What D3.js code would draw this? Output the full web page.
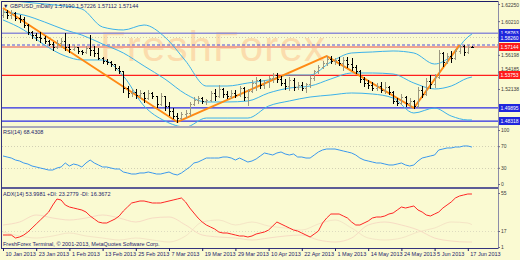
<!DOCTYPE html>
<html>
<head>
<meta charset="utf-8">
<script src="https://cdnjs.cloudflare.com/ajax/libs/d3/7.8.5/d3.min.js"></script>
<style>
body { margin: 0; background: #fafad2; }
svg { display: block; }
</style>
</head>
<body>
<script>
//DATA (GBPUSD daily, 10 Jan - 18 Jun 2013, bar index 0..113)
var dateLabels = ["10 Jan 2013", "23 Jan 2013", "1 Feb 2013", "13 Feb 2013", "25 Feb 2013", "7 Mar 2013", "19 Mar 2013",
                  "29 Mar 2013", "10 Apr 2013", "22 Apr 2013", "1 May 2013", "14 May 2013", "24 May 2013", "5 Jun 2013", "17 Jun 2013"];
var dateIdx = [0, 8, 16, 24, 32, 40, 48, 56, 64, 72, 80, 88, 96, 104, 112];

var open = [1.6094,1.6130,1.6094,1.6118,1.6058,1.6047,1.5975,1.5892,1.5856,1.5832,
            1.5820,1.5785,1.5749,1.5713,1.5761,1.5785,1.5713,1.5690,1.5713,1.5666,
            1.5654,1.5701,1.5678,1.5642,1.5582,1.5547,1.5535,1.5511,1.5463,1.5428,
            1.5225,1.5166,1.5178,1.5142,1.5166,1.5106,1.5166,1.5130,1.5035,1.5130,
            1.5011,1.4952,1.4892,1.4868,1.4916,1.4928,1.5035,1.5083,1.5106,1.5071,
            1.5083,1.5166,1.5130,1.5214,1.5154,1.5130,1.5166,1.5142,1.5225,1.5118,
            1.5190,1.5285,1.5321,1.5261,1.5297,1.5344,1.5380,1.5333,1.5285,1.5249,
            1.5321,1.5237,1.5261,1.5225,1.5273,1.5344,1.5428,1.5475,1.5523,1.5571,
            1.5547,1.5559,1.5523,1.5559,1.5511,1.5475,1.5428,1.5333,1.5285,1.5261,
            1.5225,1.5249,1.5202,1.5237,1.5178,1.5071,1.5047,1.5118,1.5047,1.5071,
            1.5011,1.5202,1.5154,1.5309,1.5273,1.5356,1.5642,1.5535,1.5606,1.5582,
            1.5666,1.5725,1.5654,1.5719];
var high = [1.6166,1.6154,1.6154,1.6130,1.6094,1.6070,1.5987,1.5904,1.5880,1.5892,
            1.5844,1.5797,1.5773,1.5797,1.5820,1.5880,1.5749,1.5737,1.5713,1.5678,
            1.5725,1.5856,1.5725,1.5701,1.5594,1.5571,1.5547,1.5511,1.5487,1.5428,
            1.5249,1.5214,1.5214,1.5202,1.5178,1.5202,1.5178,1.5130,1.5166,1.5130,
            1.5059,1.4987,1.4928,1.4940,1.4964,1.5059,1.5118,1.5130,1.5118,1.5095,
            1.5190,1.5214,1.5261,1.5225,1.5190,1.5202,1.5202,1.5249,1.5237,1.5214,
            1.5321,1.5356,1.5333,1.5321,1.5368,1.5404,1.5404,1.5368,1.5333,1.5356,
            1.5344,1.5297,1.5297,1.5285,1.5368,1.5440,1.5499,1.5547,1.5606,1.5606,
            1.5582,1.5594,1.5594,1.5594,1.5582,1.5499,1.5440,1.5356,1.5321,1.5297,
            1.5285,1.5297,1.5297,1.5249,1.5190,1.5106,1.5154,1.5130,1.5106,1.5083,
            1.5237,1.5249,1.5344,1.5380,1.5392,1.5678,1.5654,1.5642,1.5666,1.5690,
            1.5737,1.5737,1.5737,1.5723];
var low = [1.6070,1.6058,1.6058,1.6035,1.6011,1.5951,1.5868,1.5820,1.5797,1.5773,
           1.5761,1.5737,1.5678,1.5701,1.5713,1.5678,1.5654,1.5678,1.5642,1.5630,
           1.5642,1.5618,1.5606,1.5571,1.5523,1.5511,1.5487,1.5440,1.5404,1.5178,
           1.5118,1.5130,1.5106,1.5106,1.5059,1.5095,1.5106,1.4999,1.5023,1.4964,
           1.4904,1.4868,1.4821,1.4857,1.4880,1.4904,1.5023,1.5047,1.5047,1.5035,
           1.5071,1.5083,1.5118,1.5118,1.5106,1.5106,1.5118,1.5130,1.5083,1.5023,
           1.5178,1.5202,1.5225,1.5225,1.5237,1.5297,1.5297,1.5261,1.5214,1.5202,
           1.5202,1.5214,1.5202,1.5178,1.5237,1.5321,1.5404,1.5463,1.5499,1.5523,
           1.5511,1.5499,1.5440,1.5475,1.5440,1.5404,1.5297,1.5249,1.5225,1.5202,
           1.5202,1.5178,1.5166,1.5154,1.5047,1.5023,1.5035,1.5011,1.4999,1.4987,
           1.4999,1.5118,1.5142,1.5225,1.5237,1.5344,1.5487,1.5523,1.5535,1.5571,
           1.5642,1.5618,1.5642,1.5711];
var close = [1.6130,1.6094,1.6118,1.6058,1.6047,1.5975,1.5892,1.5856,1.5832,1.5820,
             1.5785,1.5749,1.5713,1.5761,1.5785,1.5713,1.5690,1.5713,1.5666,1.5654,
             1.5701,1.5678,1.5642,1.5582,1.5547,1.5535,1.5511,1.5463,1.5428,1.5225,
             1.5166,1.5178,1.5142,1.5166,1.5106,1.5166,1.5130,1.5035,1.5130,1.5011,
             1.4952,1.4892,1.4868,1.4916,1.4928,1.5035,1.5083,1.5106,1.5071,1.5083,
             1.5166,1.5130,1.5214,1.5154,1.5130,1.5166,1.5142,1.5225,1.5118,1.5190,
             1.5285,1.5321,1.5261,1.5297,1.5344,1.5380,1.5333,1.5285,1.5249,1.5321,
             1.5237,1.5261,1.5225,1.5273,1.5344,1.5428,1.5475,1.5523,1.5571,1.5547,
             1.5559,1.5523,1.5559,1.5511,1.5475,1.5428,1.5333,1.5285,1.5261,1.5225,
             1.5249,1.5202,1.5237,1.5178,1.5071,1.5047,1.5118,1.5047,1.5071,1.5011,
             1.5202,1.5154,1.5309,1.5273,1.5356,1.5642,1.5535,1.5606,1.5582,1.5666,
             1.5725,1.5654,1.5713,1.5714];

//bollinger bands, read every few bars
var bandIdx = [0,5,10,15,19,24,29,34,39,44,49,54,59,64,69,74,79,84,89,94,99,104,108,112,113];
var bandUpper = [1.6273,1.6249,1.6225,1.6201,1.6166,1.5951,1.5916,1.5975,1.5832,1.5547,1.5249,1.5249,1.5285,
                 1.5321,1.5380,1.5380,1.5535,1.5642,1.5654,1.5666,1.5642,1.5511,1.5606,1.5832,1.5868];
var bandMiddle = [1.6130,1.6094,1.6011,1.5916,1.5856,1.5749,1.5642,1.5487,1.5333,1.5154,1.5059,1.5059,1.5071,
                  1.5166,1.5225,1.5249,1.5333,1.5404,1.5404,1.5392,1.5285,1.5214,1.5249,1.5344,1.5356];
var bandLower = [1.6035,1.5916,1.5737,1.5606,1.5559,1.5559,1.5368,1.5011,1.4833,1.4761,1.4868,1.4868,1.4868,
                 1.5011,1.5071,1.5118,1.5142,1.5166,1.5154,1.5106,1.4928,1.4987,1.4892,1.4845,1.4845];

//zigzag turning points
var zigIdx = [0, 42, 78, 99, 110];
var zigPrice = [1.6177, 1.4821, 1.5606, 1.4987, 1.5737];

//horizontal levels on the main window
var levelPrice = [1.58763, 1.58260, 1.57370, 1.57144, 1.53753, 1.49895, 1.48318];
var levelLabel = ["1.58763", "1.58260", "", "1.57144", "1.53753", "1.49895", "1.48318"];
var priceTicks = [1.62250, 1.60210, 1.56198, 1.54185, 1.52138];

//RSI(14)
var rsi = [51.9,50.0,48.1,44.4,42.6,38.9,37.0,33.3,31.5,29.6,
           27.8,25.9,25.9,29.6,31.5,38.9,33.3,37.0,35.2,31.5,
           38.9,44.4,38.9,35.2,31.5,31.5,29.6,27.8,27.8,22.2,
           20.4,18.5,18.5,20.4,20.4,22.2,20.4,18.5,18.5,20.4,
           22.2,18.5,16.7,20.4,25.9,31.5,38.9,40.7,44.4,48.1,
           48.1,48.1,48.1,50.0,50.0,48.1,44.4,48.1,44.4,40.7,
           42.6,46.3,51.9,57.4,55.6,53.7,57.4,59.3,55.6,53.7,
           55.6,50.0,50.0,48.1,48.1,53.7,59.3,63.0,64.8,64.8,
           64.8,63.0,61.1,59.3,57.4,53.7,48.1,44.4,42.6,40.7,
           38.9,38.9,37.0,35.2,35.2,37.0,38.9,35.2,33.3,35.2,
           42.6,48.1,50.0,51.9,53.7,63.0,64.8,66.7,66.7,68.5,
           68.5,70.4,70.4,68.4];
var rsiTicks = [100, 70, 30, 0];
var rsiLevels = [70, 30];

//ADX(14) and +DI / -DI
var adx = [13,13,13,10,11,13,16,20,24,28,
           32,36,43,49,48,43,41,40,39,38,
           36,32,29,26,25,25,27,29,32,37,
           41,45,46,47,47,46,45,45,45,46,
           47,48,49,50,46,40,35,30,26,23,
           21,19,16,15,15,14,13,12,12,11,
           12,14,15,16,18,22,26,24,22,20,
           18,17,15,13,11,14,17,25,30,34,
           34,34,32,30,26,23,23,25,27,30,
           31,31,32,34,35,38,41,40,41,42,
           38,36,33,32,34,36,40,43,46,50,
           52,53,54,54];
var diIdx = [0,4,8,12,16,20,24,28,32,36,40,44,48,52,56,60,64,68,72,76,80,84,88,92,96,100,104,108,112,113];
var plusDI = [16,12,10,12,15,12,10,8,10,8,6,12,26,28,23,26,22,20,18,24,28,20,10,8,10,16,20,26,25,23.3];
var minusDI = [23,26,33,30,28,30,33,30,26,30,31,23,13,11,10,8,10,12,13,8,6,10,23,26,23,18,10,7,6,6];
var adxTicks = [55, 17, 1];
var adxLevels = [17];

//1. sizes
var width = 520, height = 260;
var left = 2, right = 498;
var mainTop = 2, mainBottom = 126;
var rsiTop = 128, rsiBottom = 186;
var adxTop = 189, adxBottom = 247;
var font = "'Liberation Sans', Arial, sans-serif";
var navy = "#1c1c6a";

//2. scales
var x = d3.scaleLinear().domain([0, 112]).range([3, 467.8]);
var y = d3.scaleLinear().domain([1.47732, 1.62488]).range([126, 2]);
var yRsi = d3.scaleLinear().domain([0, 100]).range([184, 130]);
var yAdx = d3.scaleLinear().domain([0, 59]).range([248, 189]);

function px(i) { return Math.round(x(i)) + 0.5; }
function py(v) { return Math.round(y(v)) + 0.5; }

var svg = d3.select("body")
            .append("svg")
                .attr("width", width)
                .attr("height", height)
                .style("font-family", font);

svg.append("rect").attr("width", width).attr("height", height).attr("fill", "#fafad2");

//clip paths for the three windows
var defs = svg.append("defs");
[["clipMain", mainTop, mainBottom], ["clipRsi", rsiTop, rsiBottom], ["clipAdx", adxTop, adxBottom]].forEach(function(c) {
    defs.append("clipPath").attr("id", c[0])
        .append("rect").attr("x", left).attr("y", c[1]).attr("width", right - left).attr("height", c[2] - c[1]);
});

//MAIN WINDOW
var gMain = svg.append("g").attr("clip-path", "url(#clipMain)");

//watermark
gMain.append("text")
        .attr("x", 100)
        .attr("y", 61)
        .attr("textLength", 225)
        .attr("font-size", 42)
        .attr("fill", "#fbdcad")
        .text("FreshForex");

//horizontal levels
var levelStyle = [
    {color: "#8e8ed6", w: 1.5, dash: null},
    {color: "#cfcdb2", w: 1, dash: "1,2"},
    {color: "#5050e0", w: 1, dash: "3,2"},
    {color: "#f1a58e", w: 2, dash: null},
    {color: "#ff1e1e", w: 1.3, dash: null},
    {color: "#2a2ae6", w: 1.3, dash: null},
    {color: "#2a2ae6", w: 1.3, dash: null}
];
gMain.selectAll(".level")
        .data(levelPrice)
        .enter().append("line")
            .attr("x1", left).attr("x2", right)
            .attr("y1", function(d) { return y(d); })
            .attr("y2", function(d) { return y(d); })
            .attr("stroke", function(d, i) { return levelStyle[i].color; })
            .attr("stroke-width", function(d, i) { return levelStyle[i].w; })
            .attr("stroke-dasharray", function(d, i) { return levelStyle[i].dash; });

//bollinger bands
var bandLine = function(vals) {
    return d3.line()
        .x(function(d, i) { return x(bandIdx[i]); })
        .y(function(d) { return y(d); })
        .curve(d3.curveMonotoneX)(vals);
};
[bandUpper, bandMiddle, bandLower].forEach(function(b) {
    gMain.append("path")
        .attr("d", bandLine(b))
        .attr("fill", "none")
        .attr("stroke", "#3cb2ea")
        .attr("stroke-width", 1);
});

//zigzag
gMain.append("path")
        .attr("d", d3.line()
            .x(function(d, i) { return x(zigIdx[i]); })
            .y(function(d) { return y(d); })(zigPrice))
        .attr("fill", "none")
        .attr("stroke", "#ff8a14")
        .attr("stroke-width", 2);

//OHLC bars
var bars = gMain.selectAll(".bar")
        .data(close)
        .enter().append("g")
            .attr("stroke", function(d, i) { return d >= open[i] ? "#9c9880" : "#000"; })
            .attr("stroke-width", 1)
            .attr("shape-rendering", "crispEdges");
bars.append("line")
        .attr("x1", function(d, i) { return px(i); })
        .attr("x2", function(d, i) { return px(i); })
        .attr("y1", function(d, i) { return Math.round(y(high[i])); })
        .attr("y2", function(d, i) { return Math.round(y(low[i])) + 1; });
bars.append("line")
        .attr("x1", function(d, i) { return px(i) - 1.5; })
        .attr("x2", function(d, i) { return px(i); })
        .attr("y1", function(d, i) { return py(open[i]); })
        .attr("y2", function(d, i) { return py(open[i]); });
bars.append("line")
        .attr("x1", function(d, i) { return px(i); })
        .attr("x2", function(d, i) { return px(i) + 1.5; })
        .attr("y1", function(d) { return py(d); })
        .attr("y2", function(d) { return py(d); });

//RSI WINDOW
var gRsi = svg.append("g").attr("clip-path", "url(#clipRsi)");
gRsi.selectAll(".rsilev")
        .data(rsiLevels)
        .enter().append("line")
            .attr("x1", left).attr("x2", right)
            .attr("y1", function(d) { return Math.round(yRsi(d)) + 0.5; })
            .attr("y2", function(d) { return Math.round(yRsi(d)) + 0.5; })
            .attr("stroke", "#d2d0b4")
            .attr("stroke-dasharray", "1,2");
gRsi.append("path")
        .attr("d", d3.line()
            .x(function(d, i) { return x(i); })
            .y(function(d) { return yRsi(d); })(rsi))
        .attr("fill", "none")
        .attr("stroke", "#3a98ee")
        .attr("stroke-width", 1);

//ADX WINDOW
var gAdx = svg.append("g").attr("clip-path", "url(#clipAdx)");
gAdx.selectAll(".adxlev")
        .data(adxLevels)
        .enter().append("line")
            .attr("x1", left).attr("x2", right)
            .attr("y1", function(d) { return Math.round(yAdx(d)) + 0.5; })
            .attr("y2", function(d) { return Math.round(yAdx(d)) + 0.5; })
            .attr("stroke", "#dedcc0")
            .attr("stroke-dasharray", "1,2");
var diLine = d3.line()
        .x(function(d, i) { return x(diIdx[i]); })
        .y(function(d) { return yAdx(d); })
        .curve(d3.curveMonotoneX);
gAdx.append("path").attr("d", diLine(plusDI))
        .attr("fill", "none").attr("stroke", "#f5e5c6").attr("stroke-width", 1);
gAdx.append("path").attr("d", diLine(minusDI))
        .attr("fill", "none").attr("stroke", "#f7dcc4").attr("stroke-width", 1);
gAdx.append("path")
        .attr("d", d3.line()
            .x(function(d, i) { return x(i); })
            .y(function(d) { return yAdx(d); })(adx))
        .attr("fill", "none")
        .attr("stroke", "#ff2626")
        .attr("stroke-width", 1);

//FRAME
var frame = svg.append("g").attr("shape-rendering", "crispEdges");
frame.append("line").attr("x1", left).attr("x2", right).attr("y1", 1.5).attr("y2", 1.5).attr("stroke", navy).attr("stroke-width", 1.5);
frame.append("line").attr("x1", left).attr("x2", right).attr("y1", 127).attr("y2", 127).attr("stroke", "#a9a9bb").attr("stroke-width", 2);
frame.append("line").attr("x1", left).attr("x2", right).attr("y1", 187.5).attr("y2", 187.5).attr("stroke", "#5c5c96").attr("stroke-width", 2);
frame.append("line").attr("x1", left).attr("x2", right).attr("y1", 248.5).attr("y2", 248.5).attr("stroke", "#34347c").attr("stroke-width", 1);
frame.append("line").attr("x1", 1.5).attr("x2", 1.5).attr("y1", 1).attr("y2", 249).attr("stroke", "#34347c").attr("stroke-width", 1);
frame.append("line").attr("x1", right + 0.5).attr("x2", right + 0.5).attr("y1", 1).attr("y2", 249).attr("stroke", "#8c8ca8").attr("stroke-width", 1);

//AXES
function styleAxis(g) {
    g.select(".domain").remove();
    g.attr("font-family", font).attr("font-size", 5);
    g.selectAll("line").attr("stroke", "#6a6a8a");
    g.selectAll("text").attr("fill", "#3a3a3a");
}

//labelled levels, used to keep price tick texts clear of the label boxes
var boxPrices = levelPrice.filter(function(d, i) { return levelLabel[i] != ""; });

svg.append("g")
        .attr("transform", "translate(" + right + ",0)")
        .call(d3.axisRight(y).tickValues(priceTicks).tickFormat(d3.format(".5f")).tickSize(2).tickPadding(1))
        .call(styleAxis)
        .selectAll("text")
            .attr("dy", function(d) {
                var near = boxPrices.some(function(b) { return Math.abs(y(b) - y(d)) < 6 && y(b) > y(d); });
                return near ? "-0.25em" : "0.4em";
            });
svg.append("g")
        .attr("transform", "translate(" + right + ",0)")
        .call(d3.axisRight(yRsi).tickValues(rsiTicks).tickSize(2).tickPadding(1))
        .call(styleAxis);
svg.append("g")
        .attr("transform", "translate(" + right + ",0)")
        .call(d3.axisRight(yAdx).tickValues(adxTicks).tickSize(2).tickPadding(1))
        .call(styleAxis);

var xAxis = d3.axisBottom(x)
        .tickValues(dateIdx)
        .tickFormat(function(d, i) { return dateLabels[i]; })
        .tickSize(3)
        .tickPadding(1);
var gx = svg.append("g")
        .attr("transform", "translate(0,248)")
        .call(xAxis)
        .call(styleAxis);
gx.attr("font-size", 5.5);
gx.selectAll("line").attr("stroke", navy);
gx.selectAll("text").attr("text-anchor", "start").attr("x", 2).attr("fill", navy);

//level labels on the price scale
var boxes = svg.selectAll(".lbox")
        .data(boxPrices)
        .enter().append("g")
            .attr("transform", function(d) { return "translate(" + (right + 1) + "," + Math.round(y(d)) + ")"; });
boxes.append("rect")
        .attr("x", 0).attr("y", -4)
        .attr("width", 21).attr("height", 8)
        .attr("fill", function(d) { return (d == 1.57144 || d == 1.53753) ? "#ff1a1a" : "#1f26dc"; });
boxes.append("text")
        .attr("x", 1.5).attr("y", 2)
        .attr("font-size", 5)
        .attr("fill", "#fff")
        .text(function(d) { return d3.format(".5f")(d); });

//TEXTS
svg.append("text")
        .attr("x", 3).attr("y", 7.5)
        .attr("font-size", 5.5)
        .attr("fill", navy)
        .text("\u25BC GBPUSD_mDaily  1.57190 1.57226 1.57112 1.57144");
svg.append("text")
        .attr("x", 3).attr("y", 134)
        .attr("font-size", 5.5)
        .attr("fill", navy)
        .text("RSI(14) 68.4308");
svg.append("text")
        .attr("x", 3).attr("y", 196)
        .attr("font-size", 5.5)
        .attr("fill", navy)
        .text("ADX(14) 53.9981 +DI: 23.2779 -DI: 16.3672");
svg.append("text")
        .attr("x", 3).attr("y", 246)
        .attr("font-size", 5.5)
        .attr("fill", navy)
        .text("FreshForex Terminal, \u00A9 2001-2013, MetaQuotes Software Corp.");
</script>
</body>
</html>
